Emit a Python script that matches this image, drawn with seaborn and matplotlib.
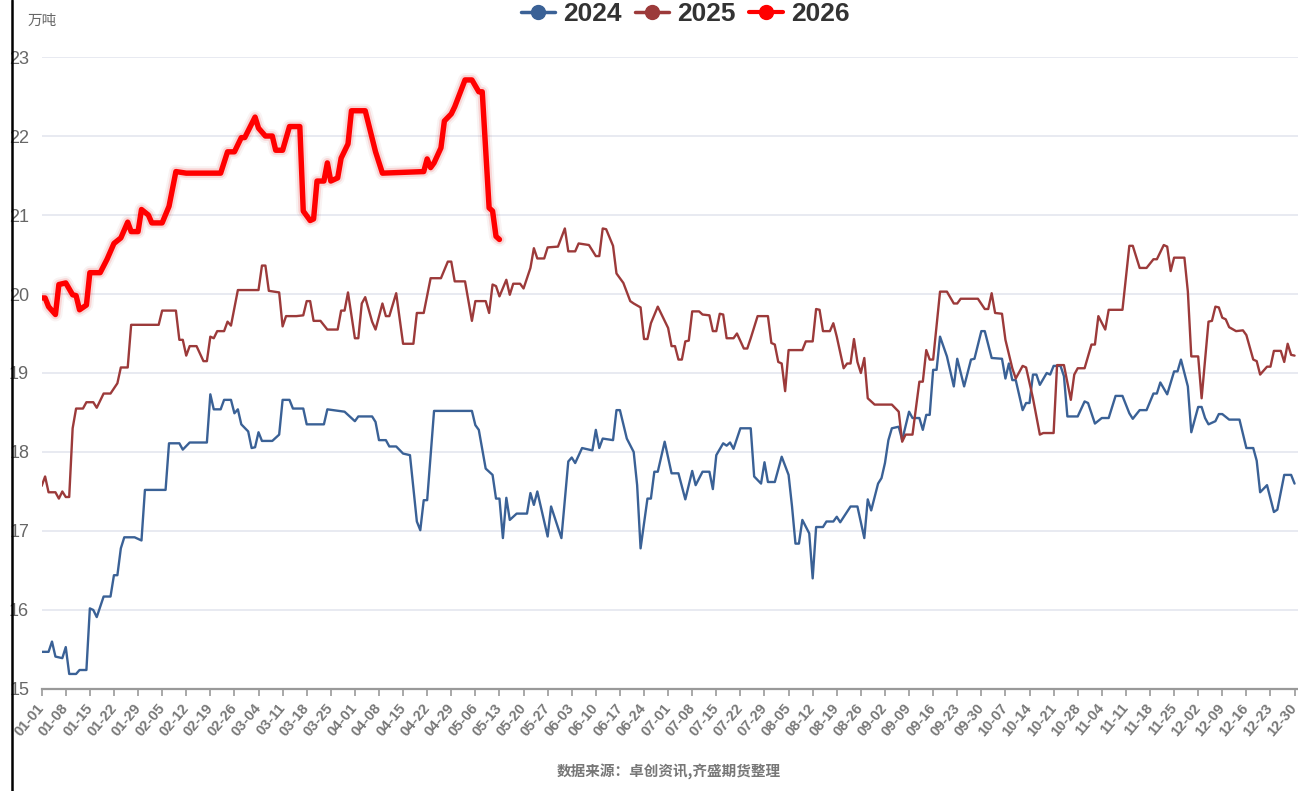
import pandas as pd
import matplotlib
matplotlib.use('Agg')
import matplotlib.pyplot as plt
import matplotlib.patheffects as pe
from matplotlib import font_manager
from matplotlib.lines import Line2D
import seaborn as sns

# day index counted from 01-01 (leap-year calendar, as on the axis)
days_2024 = [0, 2, 3, 4, 6, 7, 8, 10, 11, 13, 14, 15, 16, 18, 20, 21, 22, 23, 24, 27, 29, 30, 36, 37, 40, 41, 43, 48,
             49, 50, 52, 53, 55, 56, 57, 58, 60, 61, 62, 63, 64, 67, 69, 70, 72, 73, 76, 77, 82, 83, 88, 91, 92, 96,
             97, 98, 100, 101, 103, 105, 107, 109, 110, 111, 112, 114, 125, 126, 127, 129, 131, 132, 133, 134, 135,
             136, 138, 141, 142, 143, 144, 147, 148, 151, 153, 154, 155, 157, 160, 161, 162, 163, 166, 167, 168, 170,
             172, 173, 174, 176, 177, 178, 179, 181, 183, 185, 187, 189, 190, 192, 194, 195, 196, 198, 199, 200, 201,
             203, 206, 207, 209, 210, 211, 213, 215, 217, 218, 219, 220, 221, 223, 224, 225, 227, 228, 230, 231, 232,
             235, 237, 239, 240, 241, 243, 244, 245, 246, 247, 249, 250, 252, 253, 255, 256, 257, 258, 259, 260, 261,
             263, 265, 266, 268, 270, 271, 273, 274, 276, 279, 280, 281, 282, 283, 285, 286, 287, 288, 289, 290, 292,
             293, 294, 296, 297, 298, 301, 303, 304, 306, 308, 310, 312, 314, 316, 317, 319, 321, 323, 324, 325, 327,
             329, 330, 331, 333, 334, 336, 337, 338, 339, 341, 342, 343, 345, 348, 350, 352, 353, 354, 356, 357, 358,
             359, 361, 363, 364]
vals_2024 = [15.47, 15.47, 15.60, 15.41, 15.39, 15.53, 15.19, 15.19, 15.24, 15.24, 16.02, 16.00, 15.91, 16.17, 16.17,
             16.44, 16.44, 16.78, 16.92, 16.92, 16.88, 17.52, 17.52, 18.11, 18.11, 18.03, 18.12, 18.12, 18.73, 18.54,
             18.54, 18.66, 18.66, 18.49, 18.54, 18.35, 18.26, 18.05, 18.06, 18.25, 18.14, 18.14, 18.22, 18.66, 18.66,
             18.55, 18.55, 18.35, 18.35, 18.54, 18.51, 18.39, 18.45, 18.45, 18.38, 18.15, 18.15, 18.07, 18.07, 17.98,
             17.96, 17.12, 17.01, 17.39, 17.39, 18.52, 18.52, 18.34, 18.28, 17.79, 17.71, 17.41, 17.41, 16.91, 17.42,
             17.14, 17.22, 17.22, 17.48, 17.33, 17.50, 16.93, 17.31, 16.91, 17.88, 17.93, 17.86, 18.05, 18.02, 18.28,
             18.05, 18.17, 18.15, 18.53, 18.53, 18.17, 18.00, 17.58, 16.78, 17.41, 17.41, 17.75, 17.75, 18.13, 17.73,
             17.73, 17.40, 17.76, 17.58, 17.75, 17.75, 17.53, 17.96, 18.11, 18.08, 18.12, 18.04, 18.30, 18.30, 17.69,
             17.60, 17.87, 17.62, 17.62, 17.94, 17.71, 17.31, 16.84, 16.84, 17.14, 16.97, 16.40, 17.05, 17.05, 17.12,
             17.12, 17.18, 17.11, 17.31, 17.31, 16.91, 17.40, 17.26, 17.60, 17.67, 17.86, 18.15, 18.30, 18.32, 18.15,
             18.51, 18.43, 18.43, 18.28, 18.47, 18.47, 19.04, 19.04, 19.46, 19.21, 18.83, 19.18, 18.83, 19.17, 19.18,
             19.53, 19.53, 19.19, 19.18, 18.93, 19.12, 18.91, 18.91, 18.53, 18.62, 18.62, 18.98, 18.98, 18.85, 19.00,
             18.98, 19.09, 19.09, 18.96, 18.45, 18.45, 18.64, 18.62, 18.36, 18.43, 18.43, 18.71, 18.71, 18.49, 18.42,
             18.53, 18.53, 18.74, 18.74, 18.88, 18.73, 19.02, 19.02, 19.17, 18.83, 18.25, 18.57, 18.57, 18.43, 18.35,
             18.39, 18.48, 18.48, 18.41, 18.41, 18.05, 18.05, 17.89, 17.49, 17.58, 17.41, 17.24, 17.27, 17.71, 17.71,
             17.60]

days_2025 = [0, 1, 2, 4, 5, 6, 7, 8, 9, 10, 12, 13, 15, 16, 18, 20, 22, 23, 25, 26, 34, 35, 39, 40, 41, 42, 43, 45,
             47, 48, 49, 50, 51, 53, 54, 55, 57, 63, 64, 65, 66, 69, 70, 71, 74, 76, 77, 78, 79, 81, 83, 86, 87, 88,
             89, 91, 92, 93, 94, 96, 97, 99, 100, 101, 103, 105, 108, 109, 111, 113, 116, 118, 119, 120, 123, 125,
             126, 129, 130, 131, 132, 133, 135, 136, 137, 139, 140, 142, 143, 144, 146, 147, 150, 152, 153, 155, 156,
             159, 161, 162, 163, 164, 166, 167, 169, 171, 172, 174, 175, 176, 177, 179, 182, 183, 184, 185, 186, 187,
             188, 189, 191, 192, 194, 195, 196, 197, 198, 199, 201, 202, 204, 205, 206, 208, 211, 212, 213, 214, 215,
             216, 217, 221, 222, 224, 225, 226, 227, 229, 230, 231, 233, 234, 235, 236, 237, 238, 239, 240, 242, 247,
             249, 250, 251, 253, 255, 256, 257, 258, 259, 261, 263, 265, 266, 267, 272, 274, 275, 276, 277, 279, 280,
             282, 283, 285, 286, 288, 290, 291, 294, 295, 297, 299, 300, 301, 303, 305, 306, 307, 309, 310, 314, 316,
             317, 319, 321, 323, 324, 326, 327, 328, 329, 332, 333, 334, 336, 337, 339, 340, 341, 342, 343, 344, 345,
             347, 349, 350, 352, 353, 354, 356, 357, 358, 360, 361, 362, 363, 364]
vals_2025 = [17.57, 17.69, 17.49, 17.49, 17.41, 17.50, 17.43, 17.43, 18.30, 18.55, 18.55, 18.63, 18.63, 18.56, 18.74,
             18.74, 18.87, 19.07, 19.07, 19.61, 19.61, 19.79, 19.79, 19.42, 19.42, 19.22, 19.34, 19.34, 19.15, 19.15,
             19.46, 19.44, 19.53, 19.53, 19.65, 19.60, 20.05, 20.05, 20.36, 20.36, 20.04, 20.02, 19.59, 19.72, 19.72,
             19.73, 19.91, 19.91, 19.66, 19.66, 19.55, 19.55, 19.79, 19.79, 20.02, 19.44, 19.44, 19.88, 19.96, 19.65,
             19.55, 19.88, 19.72, 19.72, 20.01, 19.37, 19.37, 19.76, 19.76, 20.20, 20.20, 20.41, 20.41, 20.16, 20.16,
             19.66, 19.91, 19.91, 19.76, 20.12, 20.10, 19.97, 20.18, 19.99, 20.13, 20.13, 20.07, 20.33, 20.58, 20.45,
             20.45, 20.59, 20.60, 20.83, 20.54, 20.54, 20.64, 20.62, 20.48, 20.48, 20.83, 20.82, 20.61, 20.26, 20.14,
             19.91, 19.88, 19.83, 19.43, 19.43, 19.63, 19.84, 19.57, 19.34, 19.34, 19.17, 19.17, 19.40, 19.41, 19.78,
             19.78, 19.74, 19.73, 19.53, 19.53, 19.75, 19.74, 19.44, 19.44, 19.50, 19.31, 19.31, 19.44, 19.72, 19.72,
             19.38, 19.36, 19.14, 19.12, 18.77, 19.29, 19.29, 19.40, 19.40, 19.81, 19.80, 19.53, 19.53, 19.63, 19.46,
             19.06, 19.12, 19.12, 19.43, 19.14, 19.00, 19.19, 18.68, 18.60, 18.60, 18.51, 18.13, 18.22, 18.22, 18.89,
             18.89, 19.29, 19.17, 19.17, 20.03, 20.03, 19.88, 19.88, 19.94, 19.94, 19.81, 19.81, 20.01, 19.76, 19.75,
             19.42, 19.06, 18.93, 19.09, 19.07, 18.68, 18.22, 18.24, 18.24, 19.10, 19.10, 18.66, 18.98, 19.06, 19.06,
             19.36, 19.36, 19.72, 19.55, 19.80, 19.80, 20.61, 20.61, 20.33, 20.33, 20.44, 20.44, 20.62, 20.60, 20.29,
             20.46, 20.46, 20.03, 19.21, 19.21, 18.68, 19.65, 19.66, 19.84, 19.83, 19.70, 19.68, 19.58, 19.53, 19.54,
             19.48, 19.17, 19.15, 18.98, 19.08, 19.08, 19.28, 19.28, 19.14, 19.37, 19.23, 19.22]

days_2026 = [0, 1, 2, 4, 5, 7, 9, 10, 11, 13, 14, 17, 19, 21, 23, 25, 26, 28, 29, 31, 32, 35, 37, 39, 42, 52, 54, 56,
             58, 59, 62, 63, 65, 67, 68, 70, 72, 75, 76, 78, 79, 80, 82, 83, 84, 86, 87, 89, 90, 94, 97, 99, 111, 112,
             113, 114, 116, 117, 119, 120, 123, 125, 127, 128, 130, 131, 132, 133]
vals_2026 = [19.95, 19.95, 19.84, 19.74, 20.12, 20.14, 19.99, 19.98, 19.80, 19.86, 20.27, 20.27, 20.44, 20.64, 20.71,
             20.91, 20.79, 20.79, 21.07, 21.00, 20.90, 20.90, 21.11, 21.55, 21.53, 21.53, 21.80, 21.80, 21.98, 21.98,
             22.24, 22.10, 22.00, 22.00, 21.82, 21.82, 22.12, 22.12, 21.05, 20.93, 20.95, 21.43, 21.43, 21.66, 21.43,
             21.47, 21.72, 21.90, 22.32, 22.32, 21.80, 21.53, 21.55, 21.71, 21.60, 21.66, 21.85, 22.19, 22.28, 22.37,
             22.71, 22.71, 22.56, 22.56, 21.09, 21.05, 20.73, 20.69]

tick_labels = ['01-01', '01-08', '01-15', '01-22', '01-29', '02-05', '02-12', '02-19', '02-26', '03-04', '03-11',
               '03-18', '03-25', '04-01', '04-08', '04-15', '04-22', '04-29', '05-06', '05-13', '05-20', '05-27',
               '06-03', '06-10', '06-17', '06-24', '07-01', '07-08', '07-15', '07-22', '07-29', '08-05', '08-12',
               '08-19', '08-26', '09-02', '09-09', '09-16', '09-23', '09-30', '10-07', '10-14', '10-21', '10-28',
               '11-04', '11-11', '11-18', '11-25', '12-02', '12-09', '12-16', '12-23', '12-30']
years = ['2024', '2025', '2026']
colors = {'2024': '#3a6196', '2025': '#9c3a3a', '2026': '#ff0000'}

df = pd.concat([
    pd.DataFrame({'day': days_2024, 'value': vals_2024, 'year': '2024'}),
    pd.DataFrame({'day': days_2025, 'value': vals_2025, 'year': '2025'}),
    pd.DataFrame({'day': days_2026, 'value': vals_2026, 'year': '2026'}),
])

sns.set_theme(style='white')
plt.rcParams['font.family'] = ['Noto Sans CJK SC', 'DejaVu Sans']

# a condensed face for the legend if one is installed
installed = {f.name for f in font_manager.fontManager.ttflist}
if 'Liberation Sans Narrow' in installed:
    leg_font = {'family': 'Liberation Sans Narrow', 'weight': 'bold', 'size': 21}
else:
    leg_font = {'family': 'Liberation Sans', 'weight': 'bold', 'size': 19}

fig = plt.figure(figsize=(12.98, 7.91), dpi=100)
ax = fig.add_axes([0.0321, 0.129, 0.9679, 0.7989])

for yr in years:
    sub = df[df['year'] == yr]
    lw = 3.9 if yr == '2026' else 1.7
    sns.lineplot(data=sub, x='day', y='value', color=colors[yr], linewidth=lw,
                 estimator=None, sort=False, legend=False, ax=ax)
# soft glow under the current year line
ax.lines[-1].set_path_effects([pe.Stroke(linewidth=10, foreground=(0.6, 0.2, 0.2, 0.06)),
                               pe.Stroke(linewidth=7, foreground=(1, 0, 0, 0.12)),
                               pe.Normal()])

ax.set_xlim(0, 365)
ax.set_ylim(15, 23)
ax.set_yticks(range(15, 24))
ax.set_xticks(range(0, 365, 7))
ax.set_xticklabels(tick_labels, rotation=50, ha='right', va='center', rotation_mode='anchor',
                   fontsize=10.5, fontweight='bold', color='#777777', family='Liberation Sans')
for t in ax.get_yticklabels():
    t.set_fontfamily('Liberation Sans')
    t.set_fontsize(13)
    t.set_color('#666666')
ax.tick_params(axis='y', length=0, pad=9)
ax.tick_params(axis='x', length=5, width=1.2, color='#999999', pad=7, direction='out', bottom=True)
ax.grid(axis='y', color='#e6e8f0', linewidth=1.3)
ax.set_axisbelow(True)
for s in ['left', 'top', 'right']:
    ax.spines[s].set_visible(False)
ax.spines['bottom'].set_color('#999999')
ax.spines['bottom'].set_linewidth(1.6)
ax.set_xlabel('')
ax.set_ylabel('')

handles = [Line2D([], [], color=colors[y], marker='o', markersize=10, linewidth=2.5 if y != '2026' else 3)
           for y in years]
fig.legend(handles, years, loc='center', bbox_to_anchor=(0.528, 0.982), ncol=3, frameon=False,
           prop=leg_font, labelcolor='#333333',
           handlelength=1.3, handletextpad=0.3, columnspacing=0.5)

fig.text(0.021, 0.974, '万吨', fontsize=10.5, color='#666666', va='center', ha='left')
fig.text(0.515, 0.024, '数据来源：卓创资讯,齐盛期货整理', fontsize=10.5, fontweight='bold',
         color='#777777', ha='center', va='center')
fig.add_artist(Line2D([0.0093, 0.0093], [0, 1], transform=fig.transFigure, color='black', linewidth=1.8))

fig.savefig('out.png', dpi=100)
